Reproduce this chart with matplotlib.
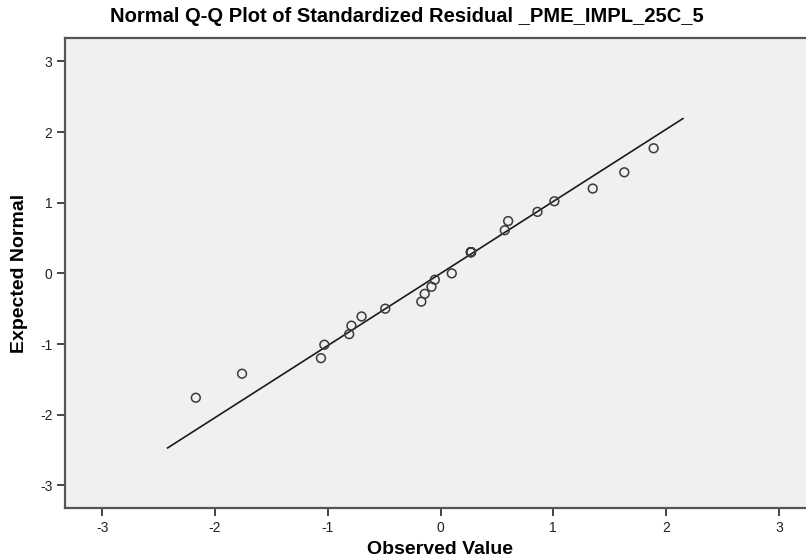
import numpy as np
import matplotlib.pyplot as plt

plt.rcParams['font.family'] = ['Liberation Sans', 'DejaVu Sans']
plt.rcParams['axes.unicode_minus'] = False

# observed (standardized residual) vs expected normal
observed = [-2.17, -1.76, -1.06, -1.03, -0.81, -0.79, -0.70, -0.49, -0.17,
            -0.14, -0.08, -0.05, 0.10, 0.27, 0.27, 0.27, 0.27, 0.27,
            0.57, 0.60, 0.86, 1.01, 1.35, 1.63, 1.89]
expected = [-1.76, -1.42, -1.20, -1.01, -0.86, -0.74, -0.61, -0.50, -0.40,
            -0.29, -0.19, -0.09, 0.00, 0.30, 0.30, 0.30, 0.30, 0.30,
            0.61, 0.74, 0.87, 1.02, 1.20, 1.43, 1.77]
line_x = [-2.42, 2.15]
line_y = [-2.47, 2.19]
ticks = [-3, -2, -1, 0, 1, 2, 3]

fig = plt.figure(figsize=(8.06, 5.59), dpi=100)
# axes run a little past the right edge, as in the screenshot
ax = fig.add_axes([65 / 806, 1 - 508 / 559, 751 / 806, 470 / 559])
ax.set_facecolor('#f0f0f0')

ax.plot(line_x, line_y, color='#1a1a1a', lw=1.2, zorder=2)
ax.scatter(observed, expected, s=40, facecolors='none', edgecolors='#3a3a3a',
           linewidths=1.1, zorder=3)

ax.set_xlim(-3.33, 3.33)
ax.set_ylim(-3.32, 3.33)
ax.set_xticks(ticks)
ax.set_yticks(ticks)
ax.tick_params(direction='out', length=6, width=1.4, color='#444444',
               labelsize=10, labelcolor='#222222', pad=3)

for s in ax.spines.values():
    s.set_color('#555555')
    s.set_linewidth(1.6)

ax.set_xlabel('Observed Value', fontsize=14, fontweight='bold', va='center')
ax.xaxis.set_label_coords((440 - 65) / 751, (508 - 549) / 470)
ax.set_ylabel('Expected Normal', fontsize=14, fontweight='bold', va='center')
ax.yaxis.set_label_coords((20 - 65) / 751, 0.5)
fig.text(407 / 806, 1 - 17 / 559, 'Normal Q-Q Plot of Standardized Residual _PME_IMPL_25C_5',
         ha='center', va='center', fontsize=14.5, fontweight='bold')

fig.savefig('out.png', dpi=100)
